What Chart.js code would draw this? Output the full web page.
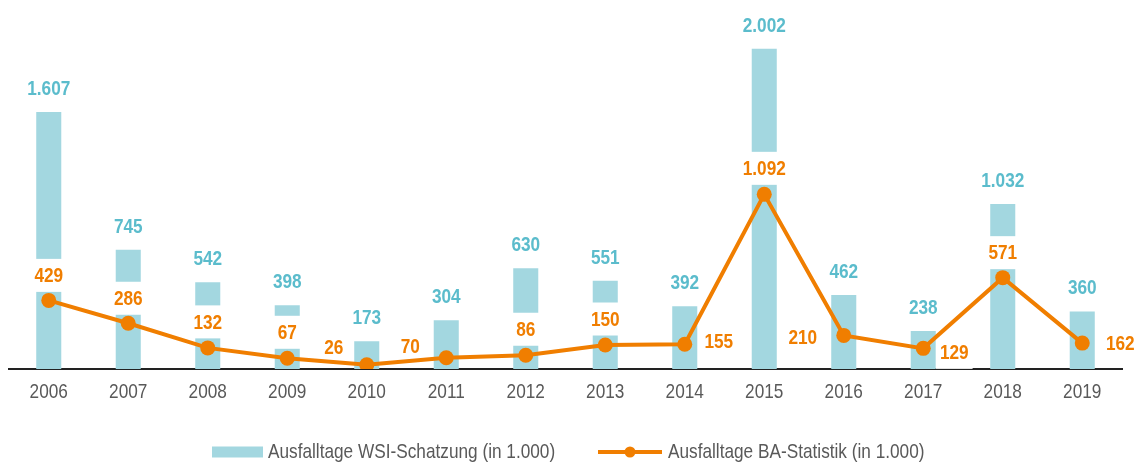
<!DOCTYPE html>
<html>
<head>
<meta charset="utf-8">
<script src="https://cdn.jsdelivr.net/npm/chart.js@4.4.1/dist/chart.umd.min.js"></script>
<style>
  html, body { margin: 0; padding: 0; background: #fff; }
  #wrap { width: 1136px; height: 463px; position: relative; }
</style>
</head>
<body>
<div id="wrap"><canvas id="strikeChart"></canvas></div>
<script>
const years = ['2006', '2007', '2008', '2009', '2010', '2011', '2012', '2013', '2014', '2015', '2016', '2017', '2018', '2019'];
const wsiDays = [1607, 745, 542, 398, 173, 304, 630, 551, 392, 2002, 462, 238, 1032, 360];
const baDays = [429, 286, 132, 67, 26, 70, 86, 150, 155, 1092, 210, 129, 571, 162];
const legendLabels = ['Ausfalltage WSI-Schatzung (in 1.000)', 'Ausfalltage BA-Statistik (in 1.000)'];

// where each orange label sits relative to its point (px)
const baLabelOffset = [
  [0, -25], [0, -25], [0, -26], [0, -26], [-33, -18], [-36, -12], [0, -26],
  [0, -26], [34, -3], [0, -26], [-41, 2], [31, 4], [0, -25], [38, 0]
];

// no narrow font installed, so squeeze Liberation Sans to look like Arial Narrow
const FONT = "'Liberation Sans', Arial, sans-serif";
const SQUEEZE = 0.82;
const BAR = '#a3d7e0';
const BLUE_TXT = '#5bbccc';
const ORANGE = '#f07e00';
const GREY = '#595959';

function fmt(v) {
  return String(v).replace(/\B(?=(\d{3})+(?!\d))/g, '.');
}

function narrowText(ctx, txt, x, y) {
  ctx.save();
  ctx.translate(x, y);
  ctx.scale(SQUEEZE, 1);
  ctx.fillText(txt, 0, 0);
  ctx.restore();
}

const labelPlugin = {
  id: 'valueLabels',
  beforeDatasetDraw(chart, args) {
    if (args.index !== 1) return;
    const ctx = chart.ctx;
    const meta = chart.getDatasetMeta(1);
    ctx.save();
    ctx.font = 'bold 21px ' + FONT;
    ctx.textAlign = 'center';
    ctx.textBaseline = 'middle';
    meta.data.forEach(function(pt, i) {
      const txt = fmt(baDays[i]);
      const x = pt.x + baLabelOffset[i][0];
      const y = pt.y + baLabelOffset[i][1];
      const w = ctx.measureText(txt).width * SQUEEZE + 8;
      ctx.fillStyle = '#fff';
      ctx.fillRect(x - w / 2, y - 16.5, w, 33);
      ctx.fillStyle = ORANGE;
      narrowText(ctx, txt, x, y + 1);
    });
    ctx.restore();
  },
  afterDatasetsDraw(chart) {
    const ctx = chart.ctx;
    const meta = chart.getDatasetMeta(0);
    ctx.save();
    ctx.font = 'bold 21px ' + FONT;
    ctx.textAlign = 'center';
    ctx.textBaseline = 'middle';
    ctx.fillStyle = BLUE_TXT;
    meta.data.forEach(function(bar, i) {
      narrowText(ctx, fmt(wsiDays[i]), bar.x, bar.y - 23);
    });
    ctx.restore();
  },
  afterDraw(chart) {
    const ctx = chart.ctx;
    const xScale = chart.scales.x;
    ctx.save();
    // category labels under the axis
    ctx.font = '21px ' + FONT;
    ctx.textAlign = 'center';
    ctx.textBaseline = 'middle';
    ctx.fillStyle = GREY;
    xScale.ticks.forEach(function(t, i) {
      narrowText(ctx, xScale.getLabelForValue(t.value), xScale.getPixelForTick(i), chart.chartArea.bottom + 23);
    });

    // legend
    const y = 452;
    ctx.fillStyle = BAR;
    ctx.fillRect(212, y - 5.5, 51, 11);
    ctx.strokeStyle = ORANGE;
    ctx.lineWidth = 4;
    ctx.beginPath();
    ctx.moveTo(598, y);
    ctx.lineTo(662, y);
    ctx.stroke();
    ctx.fillStyle = ORANGE;
    ctx.beginPath();
    ctx.arc(630, y, 5.5, 0, Math.PI * 2);
    ctx.fill();
    ctx.textAlign = 'left';
    ctx.fillStyle = GREY;
    narrowText(ctx, legendLabels[0], 268, y);
    narrowText(ctx, legendLabels[1], 668, y);
    ctx.restore();
  }
};

const data = {
  labels: years,
  datasets: [{
    type: 'bar',
    label: legendLabels[0],
    data: wsiDays,
    backgroundColor: BAR,
    categoryPercentage: 1,
    barPercentage: 0.315,
    order: 2
  }, {
    type: 'line',
    label: legendLabels[1],
    data: baDays,
    borderColor: ORANGE,
    backgroundColor: ORANGE,
    borderWidth: 4,
    pointRadius: 7.5,
    pointHoverRadius: 7.5,
    pointBorderWidth: 0,
    tension: 0,
    fill: false,
    order: 1
  }]
};

const config = {
  type: 'bar',
  data,
  plugins: [labelPlugin],
  options: {
    responsive: true,
    maintainAspectRatio: false,
    animation: false,
    layout: { padding: { top: 1, left: 9, right: 14, bottom: 0 } },
    plugins: {
      legend: { display: false },
      tooltip: { enabled: false }
    },
    scales: {
      x: {
        grid: { display: false, drawTicks: false },
        border: { display: true, color: '#222', width: 2 },
        ticks: { display: false },
        afterFit(scale) { scale.height = 94; }
      },
      y: {
        display: false,
        min: 0,
        max: 2260
      }
    }
  }
};

new Chart(document.getElementById('strikeChart'), config);
</script>
</body>
</html>
